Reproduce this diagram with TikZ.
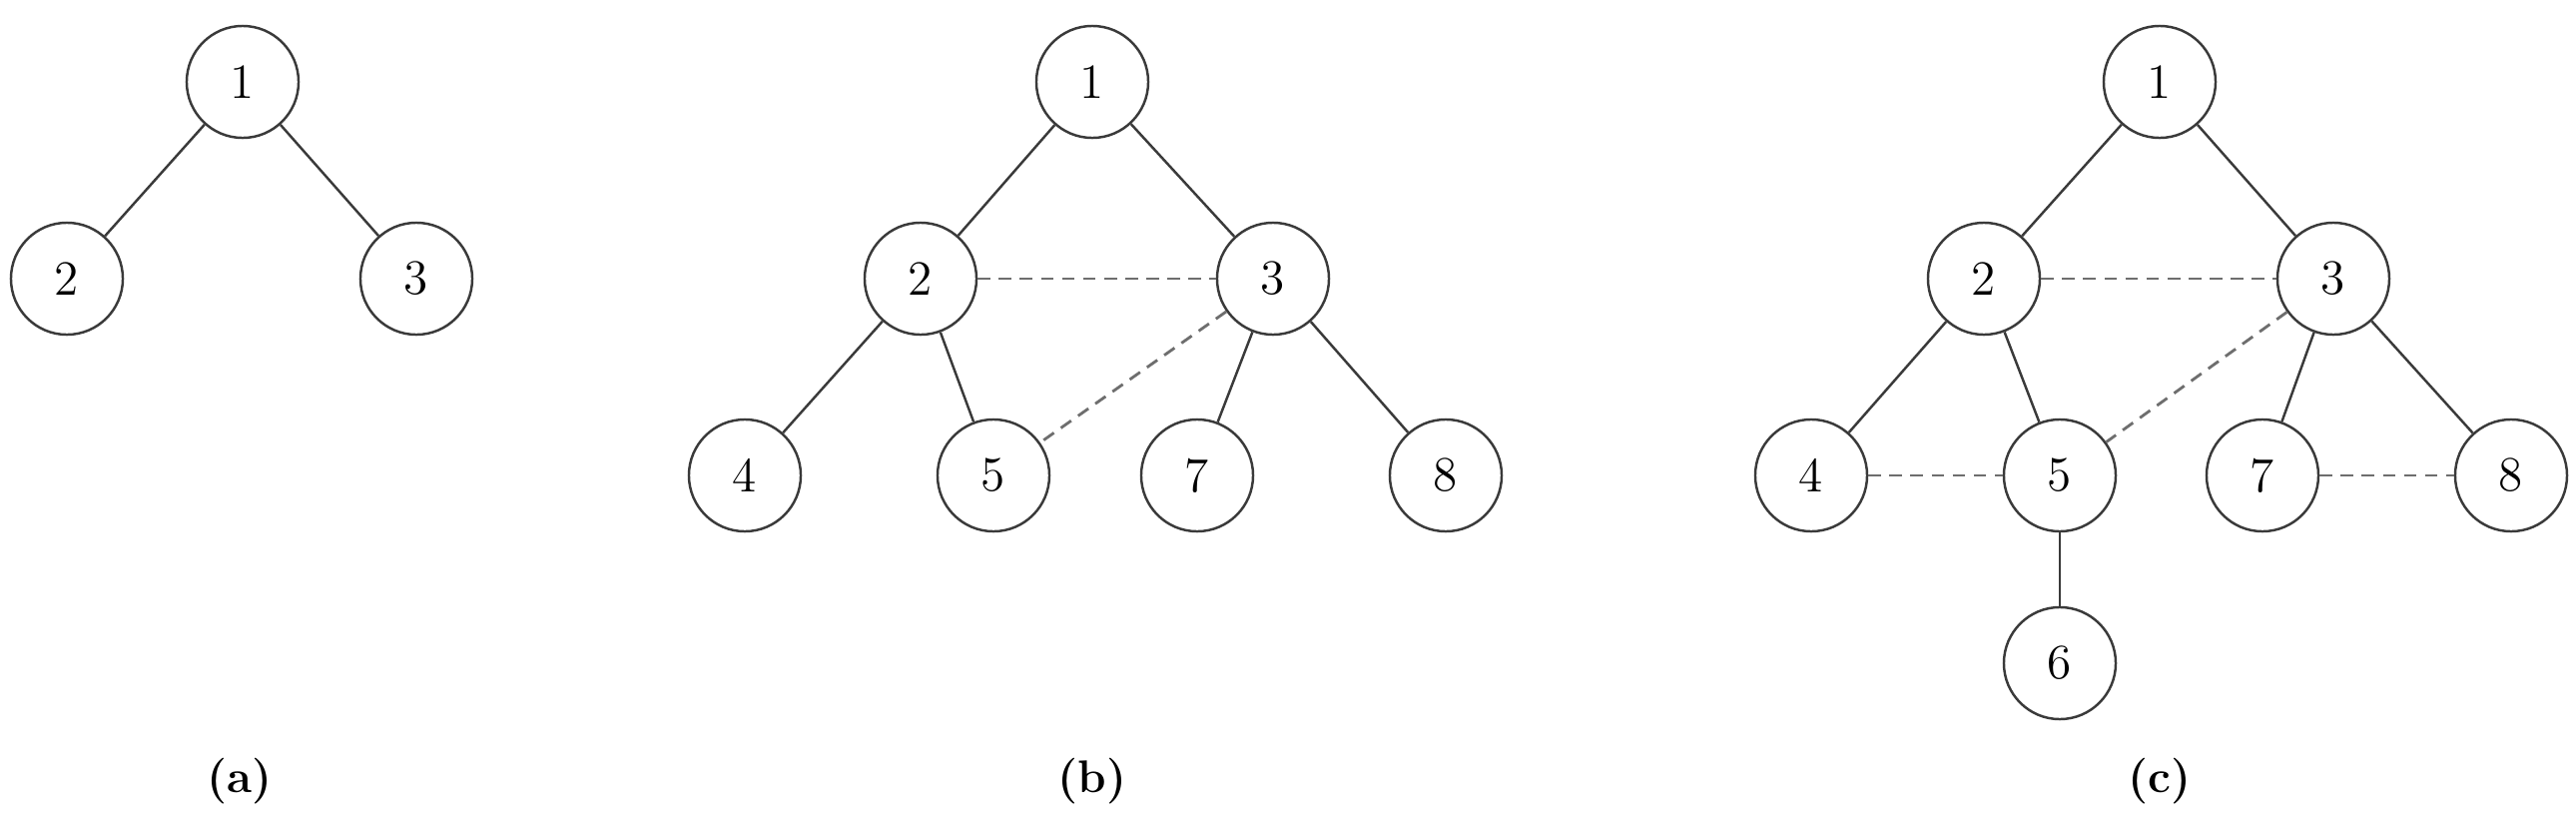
\documentclass[tikz,border=0pt]{standalone}
\usetikzlibrary{positioning}
\definecolor{cline}{HTML}{3A3A3A}
\definecolor{cdash}{HTML}{6E6E6E}
\tikzset{
  every picture/.style={line width=0.7pt, x=0.01cm, y=-0.01cm},
  vertex/.style={circle, draw=cline, minimum size=1.12cm, inner sep=0pt, font=\fontsize{14}{16}\selectfont},
  edge/.style={draw=cline},
  link/.style={draw=cdash, line width=0.8pt, dash pattern=on 3.6pt off 2.4pt},
  caption/.style={font=\fontsize{13}{15}\selectfont\bfseries},
}
\begin{document}
\begin{tikzpicture}
  \useasboundingbox (0,0) rectangle (2580,836);
  % (a)
  \node[vertex] (a1) at (243,82) {1};
  \node[vertex] (a2) at (67,279) {2};
  \node[vertex] (a3) at (417,279) {3};
  \draw[edge] (a1) -- (a2);
  \draw[edge] (a1) -- (a3);
  \node[caption] (ca) at (240,782) {(a)};
  % (b)
  \node[vertex] (b1) at (1094,82) {1};
  \node[vertex] (b2) at (922,279) {2};
  \node[vertex] (b3) at (1275,279) {3};
  \node[vertex] (b4) at (746,476) {4};
  \node[vertex] (b5) at (995,476) {5};
  \node[vertex] (b7) at (1199,476) {7};
  \node[vertex] (b8) at (1448,476) {8};
  \draw[edge] (b1) -- (b2);
  \draw[edge] (b1) -- (b3);
  \draw[edge] (b2) -- (b4);
  \draw[edge] (b2) -- (b5);
  \draw[edge] (b3) -- (b7);
  \draw[edge] (b3) -- (b8);
  \draw[link] (b2) -- (b3);
  \draw[link] (b3) -- (b5);
  \node[caption] (cb) at (1094,782) {(b)};
  % (c)
  \node[vertex] (c1) at (2163,82) {1};
  \node[vertex] (c2) at (1987,279) {2};
  \node[vertex] (c3) at (2337,279) {3};
  \node[vertex] (c4) at (1814,476) {4};
  \node[vertex] (c5) at (2063,476) {5};
  \node[vertex] (c7) at (2266,476) {7};
  \node[vertex] (c8) at (2515,476) {8};
  \node[vertex] (c6) at (2063,664) {6};
  \draw[edge] (c1) -- (c2);
  \draw[edge] (c1) -- (c3);
  \draw[edge] (c2) -- (c4);
  \draw[edge] (c2) -- (c5);
  \draw[edge] (c3) -- (c7);
  \draw[edge] (c3) -- (c8);
  \draw[edge] (c5) -- (c6);
  \draw[link] (c2) -- (c3);
  \draw[link] (c3) -- (c5);
  \draw[link] (c4) -- (c5);
  \draw[link] (c7) -- (c8);
  \node[caption] (cc) at (2163,782) {(c)};
\end{tikzpicture}
\end{document}
